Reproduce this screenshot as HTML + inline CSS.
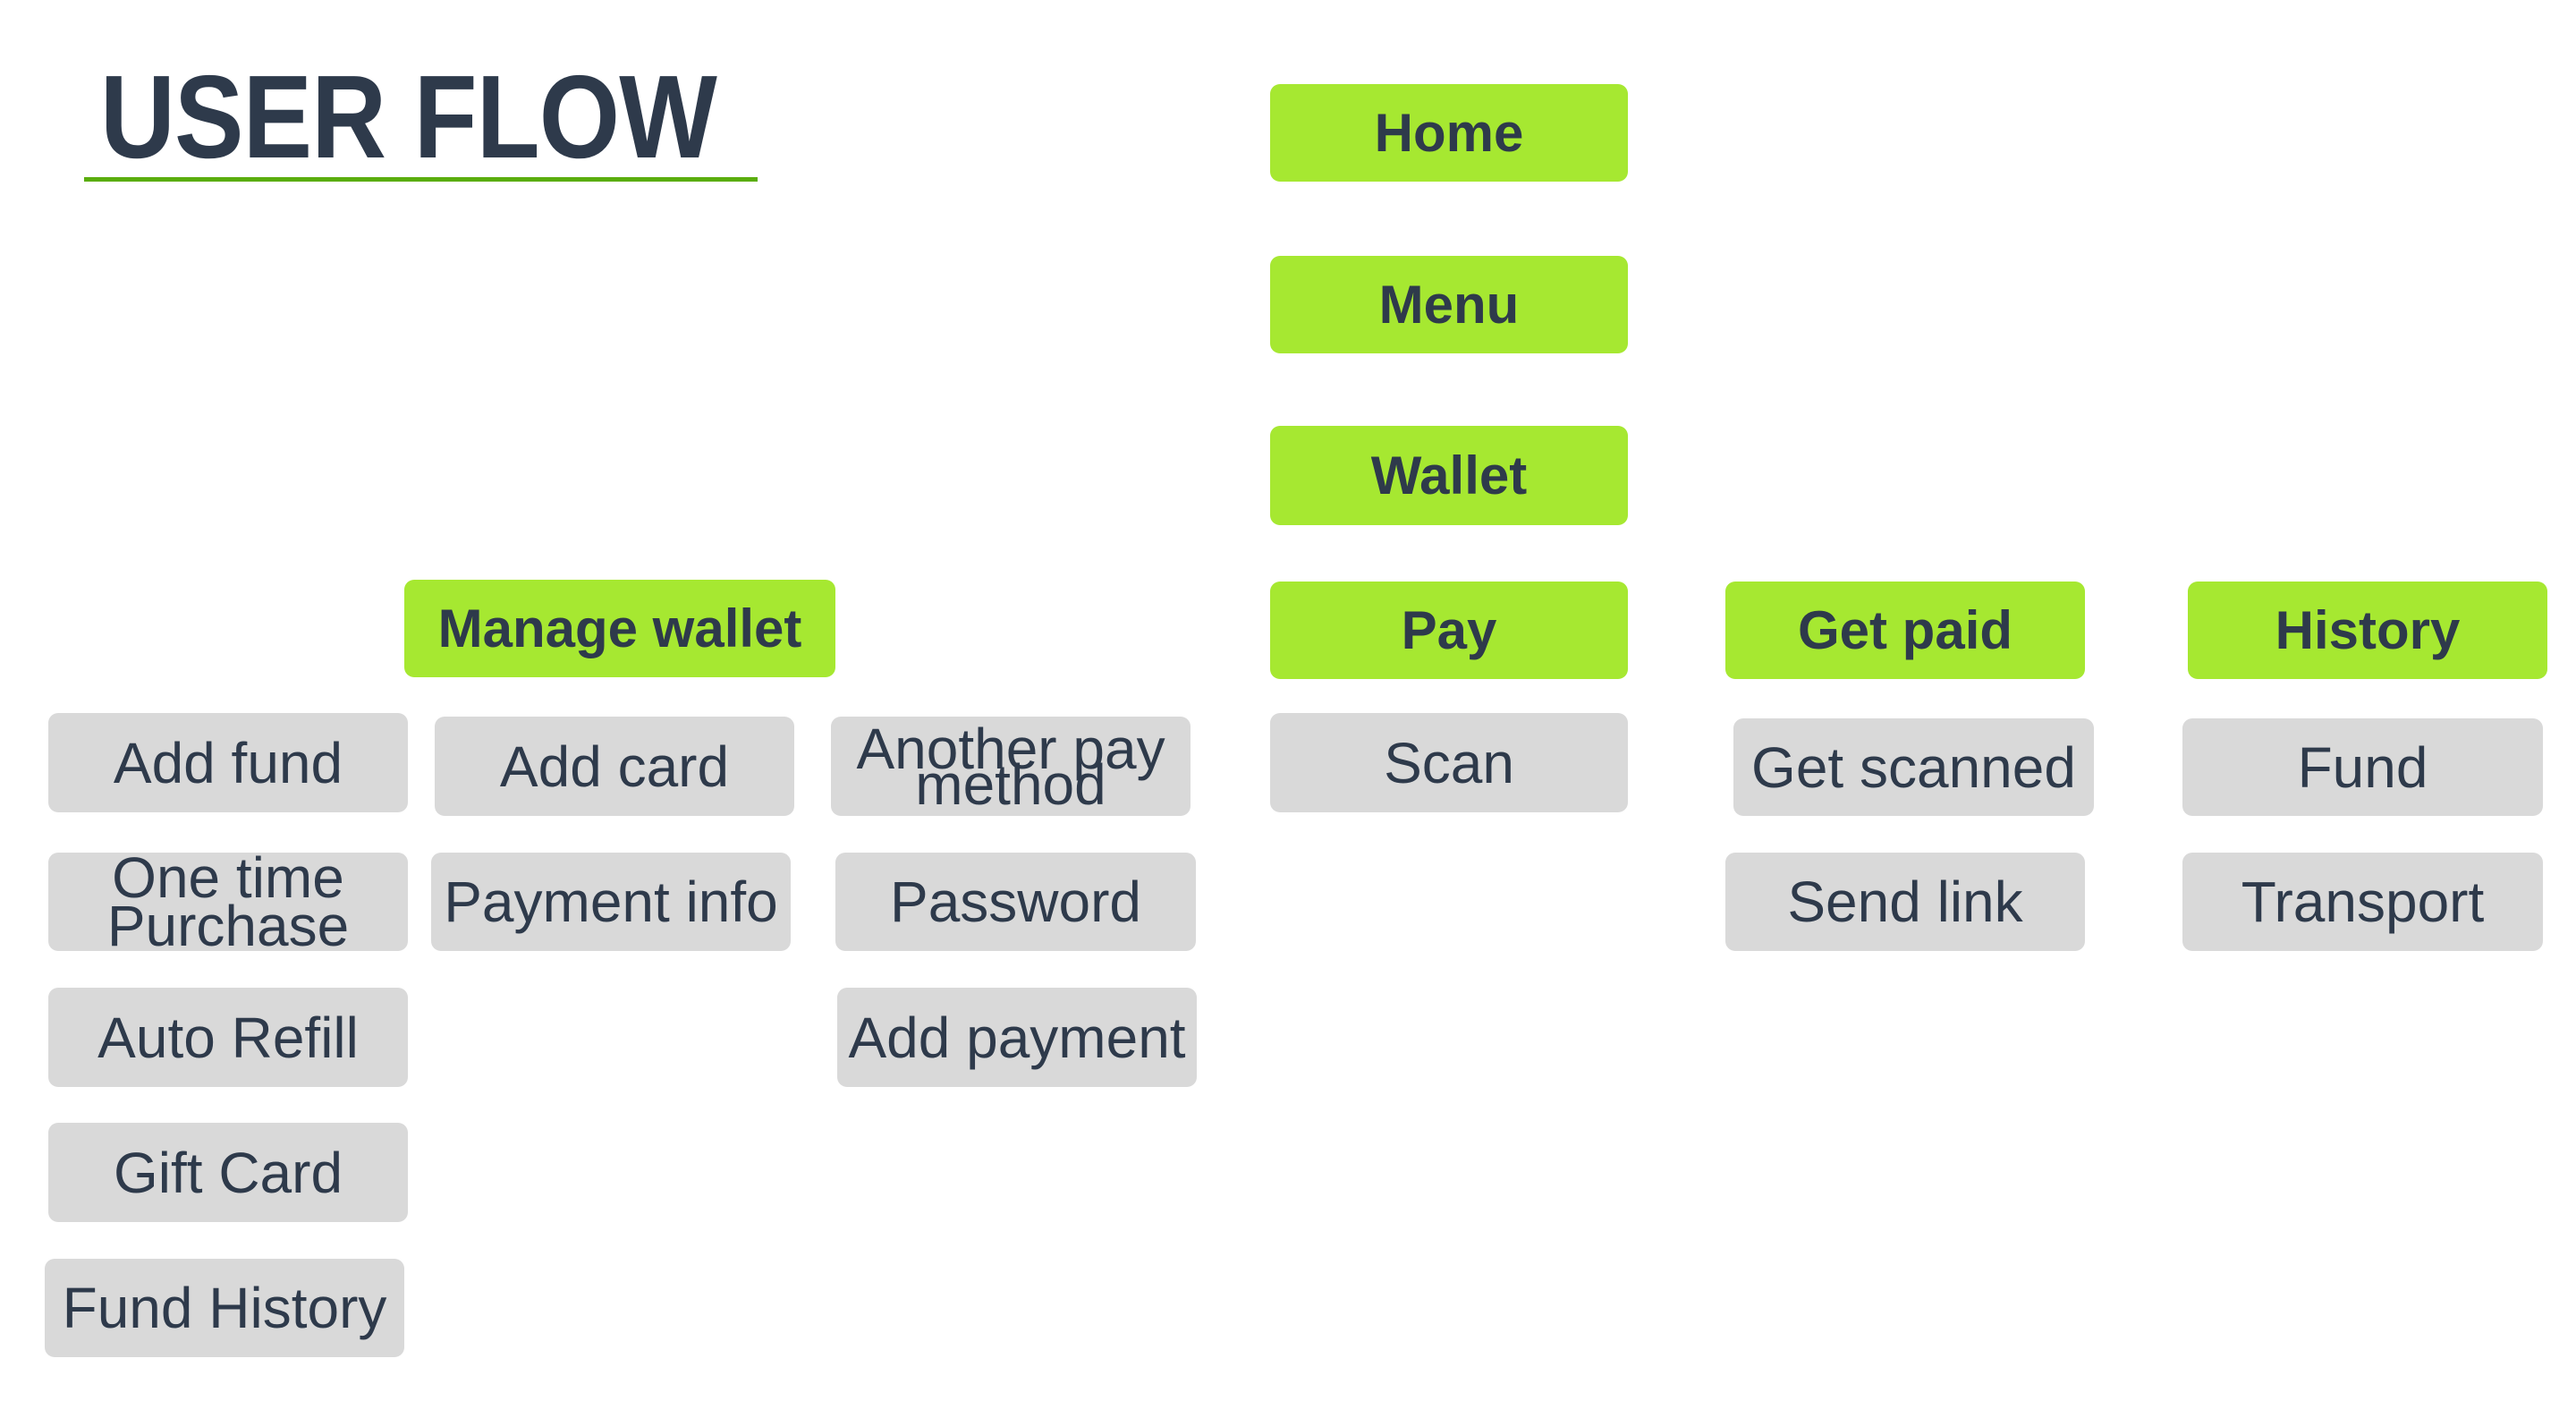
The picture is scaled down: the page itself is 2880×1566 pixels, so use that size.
<!DOCTYPE html>
<html><head><meta charset="utf-8"><style>
html,body{margin:0;padding:0;background:#fff;width:2880px;height:1566px;overflow:hidden;position:relative;font-family:"Liberation Sans",sans-serif;color:#2e3a4b}
.t{position:absolute;left:112px;top:56px;font-size:132px;font-weight:bold;transform:scaleX(0.88);transform-origin:left top;letter-spacing:-1px;line-height:150px}
.u{position:absolute;left:94px;top:198px;width:753px;height:5px;background:#5aad0d}
.b{position:absolute;display:flex;align-items:center;justify-content:center;text-align:center;border-radius:11px;box-sizing:border-box}
.g{background:#a6e831;font-weight:bold;font-size:60px}
.r{background:#d9d9d9;font-size:64px;line-height:52px}
</style></head><body>
<div class="t">USER FLOW</div>
<div class="u"></div>

<div class="b g" style="left:1420px;top:94px;width:400px;height:109px">Home</div>
<div class="b g" style="left:1420px;top:286px;width:400px;height:109px">Menu</div>
<div class="b g" style="left:1420px;top:476px;width:400px;height:111px">Wallet</div>
<div class="b g" style="left:1420px;top:650px;width:400px;height:109px">Pay</div>
<div class="b g" style="left:452px;top:648px;width:482px;height:109px">Manage wallet</div>
<div class="b g" style="left:1929px;top:650px;width:402px;height:109px">Get paid</div>
<div class="b g" style="left:2446px;top:650px;width:402px;height:109px">History</div>

<div class="b r" style="left:54px;top:797px;width:402px;height:111px">Add fund</div>
<div class="b r" style="left:486px;top:801px;width:402px;height:111px">Add card</div>
<div class="b r" style="left:929px;top:801px;width:402px;height:111px;line-height:40px">Another pay<br>method</div>
<div class="b r" style="left:1420px;top:797px;width:400px;height:111px">Scan</div>
<div class="b r" style="left:1938px;top:803px;width:403px;height:109px">Get scanned</div>
<div class="b r" style="left:2440px;top:803px;width:403px;height:109px">Fund</div>

<div class="b r" style="left:54px;top:953px;width:402px;height:110px;line-height:54px">One time<br>Purchase</div>
<div class="b r" style="left:482px;top:953px;width:402px;height:110px">Payment info</div>
<div class="b r" style="left:934px;top:953px;width:403px;height:110px">Password</div>
<div class="b r" style="left:1929px;top:953px;width:402px;height:110px">Send link</div>
<div class="b r" style="left:2440px;top:953px;width:403px;height:110px">Transport</div>

<div class="b r" style="left:54px;top:1104px;width:402px;height:111px">Auto Refill</div>
<div class="b r" style="left:936px;top:1104px;width:402px;height:111px">Add payment</div>
<div class="b r" style="left:54px;top:1255px;width:402px;height:111px">Gift Card</div>
<div class="b r" style="left:50px;top:1407px;width:402px;height:110px">Fund History</div>
</body></html>
